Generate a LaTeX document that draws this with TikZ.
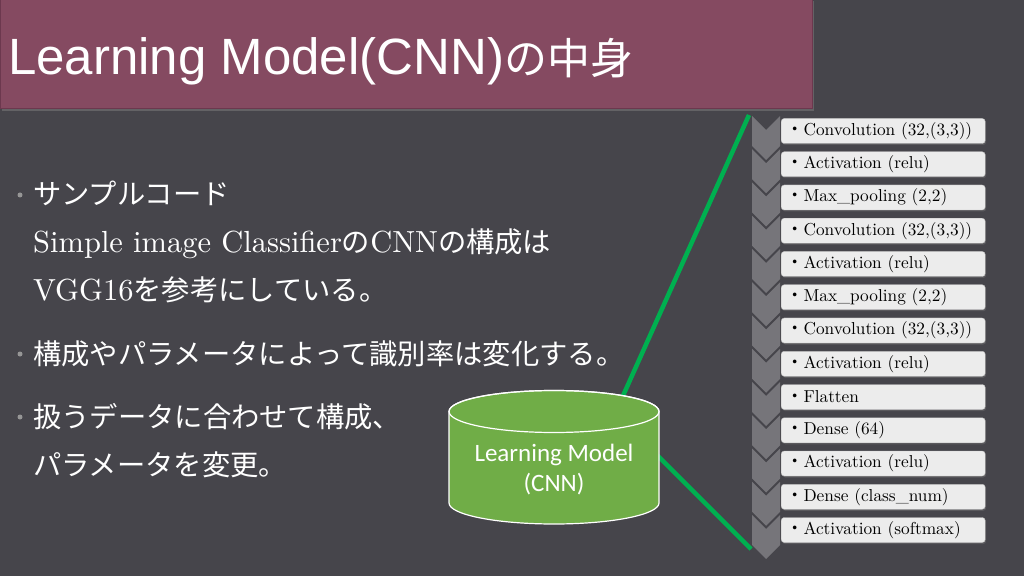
\documentclass[tikz,border=0pt]{standalone}
\usepackage{fontspec}
\usepackage{tikz}
\usetikzlibrary{shadows}
\setmainfont{lmroman10-regular}[Extension=.otf]
\newfontfamily\jp{Noto Sans CJK JP}
\newfontfamily\titlefont{Liberation Sans}
\newfontfamily\cylfont{Carlito}
\usepackage{xcolor}
\definecolor{slidebg}{RGB}{70,69,75}
\definecolor{titlered}{RGB}{133,74,97}
\definecolor{titleedge}{RGB}{108,56,78}
\definecolor{chevgrey}{RGB}{118,117,122}
\definecolor{boxgrey}{RGB}{236,236,236}
\definecolor{cylgreen}{RGB}{112,173,71}
\definecolor{linkgreen}{RGB}{0,176,80}
\definecolor{dotgrey}{RGB}{150,150,150}
\newcommand{\bul}[1]{\fill[dotgrey] (20,#1) circle[radius=2.5];}
\newcommand{\jpt}{\jp\fontsize{28.3}{34}\selectfont}

\begin{document}
\begin{tikzpicture}[x=1pt,y=1pt,
    bodytext/.style={anchor=base west,inner sep=0,text=white,font=\fontsize{30.5}{36}\selectfont},
    itembox/.style={anchor=west,draw=boxgrey!80!black,fill=boxgrey,rounded corners=3pt,
      minimum width=204pt,minimum height=25pt,text width=194pt,inner xsep=5pt,align=left,
      font=\fontsize{17.3}{19}\selectfont,
      drop shadow={shadow xshift=1pt,shadow yshift=-1.5pt,opacity=.35}}]
  \useasboundingbox (0,0) rectangle (1024,576);
  \fill[slidebg] (0,0) rectangle (1024,576);
  % title bar
  \fill[titlered,draw=titleedge,drop shadow={shadow xshift=2pt,shadow yshift=-3pt,opacity=.5}]
    (0,578) rectangle (812,468);
  \node[anchor=base west,inner sep=0,text=white] (title) at (8,501)
    {\titlefont\fontsize{51}{56}\selectfont Learning Model(CNN)\jp\fontsize{43}{50}\selectfont の中身};
  % bullet text
  \bul{381} \bul{222} \bul{159}
  \node[bodytext] (t1) at (33,371) {\jpt サンプルコード};
  \node[bodytext] (t2) at (33,323) {Simple image Classifier{\jpt の}CNN{\jpt の構成は}};
  \node[bodytext] (t3) at (33,276) {VGG16{\jpt を参考にしている。}};
  \node[bodytext] (t4) at (33,212) {\jpt 構成やパラメータによって識別率は変化する。};
  \node[bodytext] (t5) at (33,149) {\jpt 扱うデータに合わせて構成、};
  \node[bodytext] (t6) at (33,101) {\jpt パラメータを変更。};
  % links
  \coordinate (cyltop) at (622,178);
  \coordinate (cylside) at (652,126);
  \coordinate (listtop) at (749,461);
  \coordinate (listbot) at (751,27);
  \draw[linkgreen,line width=4.5pt] (cyltop) -- (listtop);
  \draw[linkgreen,line width=4.5pt] (cylside) -- (listbot);
  % cylinder
  \filldraw[fill=cylgreen,draw=white,line width=1.2pt] (449,164.5) -- (449,73)
    arc[start angle=180,end angle=360,x radius=105,y radius=21] -- (659,164.5)
    arc[start angle=0,end angle=180,x radius=105,y radius=21] -- cycle;
  \draw[white,line width=1.2pt] (554,164.5) ellipse[x radius=105,y radius=21];
  \node[text=white,align=center,font=\cylfont\fontsize{25}{30}\selectfont] (model) at (554,106)
    {Learning Model\\(CNN)};
  % chevron column
  \foreach \i in {0,...,12}{
    \pgfmathsetmacro{\t}{460-33.25*\i}
    \fill[chevgrey] (752,\t) -- (766,\t-14) -- (780,\t) -- (780,\t-30) -- (766,\t-44) -- (752,\t-30) -- cycle;
  }
  % layer list
  \foreach \lbl [count=\i from 0] in {{Convolution (32,(3,3))},{Activation (relu)},{Max\_pooling (2,2)},
      {Convolution (32,(3,3))},{Activation (relu)},{Max\_pooling (2,2)},{Convolution (32,(3,3))},
      {Activation (relu)},{Flatten},{Dense (64)},{Activation (relu)},{Dense (class\_num)},{Activation (softmax)}}
    \node[itembox] (l\i) at (781,445-33.25*\i) {{\jp ・}\lbl};
\end{tikzpicture}
\end{document}
